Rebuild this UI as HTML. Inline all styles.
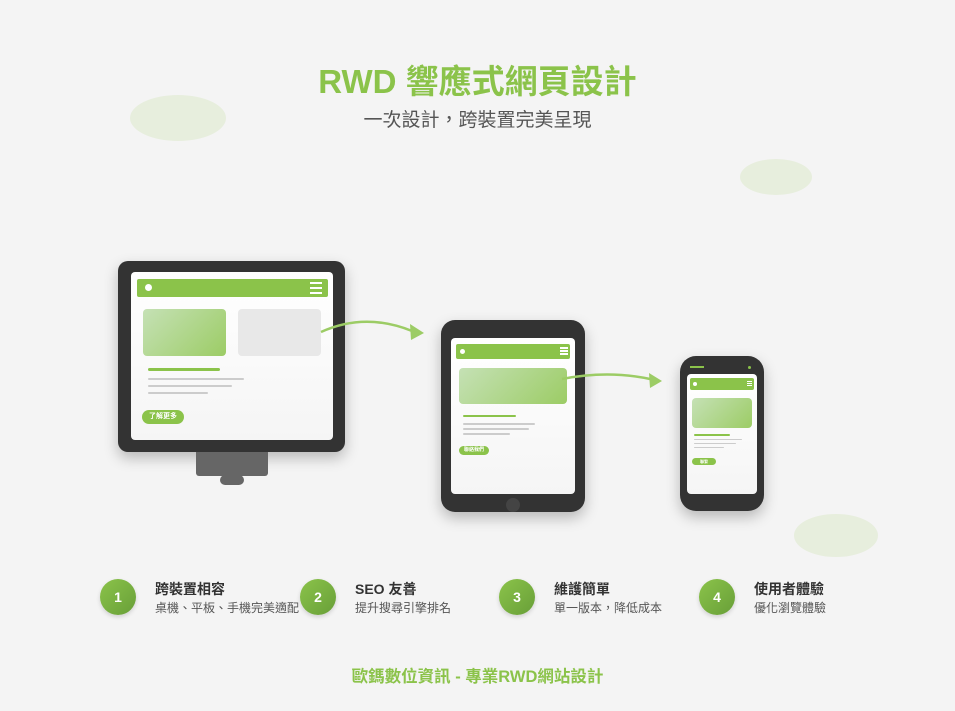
<!DOCTYPE html>
<html><head><meta charset="utf-8"><style>
*{margin:0;padding:0;box-sizing:border-box}
body{width:955px;height:711px;background:#f4f4f4;position:relative;overflow:hidden;font-family:"Liberation Sans","Noto Sans CJK TC",sans-serif}
.a{position:absolute}
.blob{position:absolute;border-radius:50%;background:#e7eedd}
.dark{position:absolute;background:#333;box-shadow:0 6px 14px rgba(0,0,0,.25)}
.scr{position:absolute;background:linear-gradient(#fff,#f5f5f5);border-radius:4px}
.hdr{position:absolute;background:#8bc34a;border-radius:2px}
.img{position:absolute;background:linear-gradient(135deg,#c5e1b5,#9ccc65);border-radius:4px}
.ln{position:absolute;background:#ccc;border-radius:2px}
.gl{position:absolute;background:#8bc34a;border-radius:2px}
.btn{position:absolute;background:#8bc34a;color:#fff;border-radius:8px;text-align:center;font-weight:bold}
.c{position:absolute;width:36px;height:36px;border-radius:50%;background:linear-gradient(135deg,#8bc34a,#689f38);color:#fff;font-weight:bold;font-size:14px;text-align:center;line-height:36px;box-shadow:0 2px 4px rgba(0,0,0,.15)}
.ft{position:absolute;font-weight:bold;font-size:14px;color:#333}
.fs{position:absolute;font-size:12px;color:#555}
</style></head><body>
<div class="blob" style="left:130px;top:95px;width:96px;height:46px"></div>
<div class="blob" style="left:740px;top:159px;width:72px;height:36px"></div>
<div class="blob" style="left:794px;top:514px;width:84px;height:43px"></div>

<div class="a" style="left:0;width:955px;top:61px;text-align:center;font-size:33px;font-weight:bold;color:#8bc34a;line-height:42px">RWD 響應式網頁設計</div>
<div class="a" style="left:0;width:955px;top:109px;text-align:center;font-size:19px;color:#555;line-height:24px">一次設計，跨裝置完美呈現</div>

<!-- monitor -->
<div class="dark" style="left:118px;top:261px;width:227px;height:191px;border-radius:10px"></div>
<div class="scr" style="left:131px;top:272px;width:202px;height:168px"></div>
<div class="hdr" style="left:137px;top:279px;width:191px;height:18px"></div>
<div class="a" style="left:145px;top:284px;width:7px;height:7px;border-radius:50%;background:#fff"></div>
<div class="a" style="left:310px;top:282px;width:12px;height:2px;background:#fff;box-shadow:0 5px 0 #fff,0 10px 0 #fff"></div>
<div class="img" style="left:143px;top:309px;width:83px;height:47px"></div>
<div class="a" style="left:238px;top:309px;width:83px;height:47px;background:#e8e8e8;border-radius:4px"></div>
<div class="gl" style="left:148px;top:368px;width:72px;height:3px"></div>
<div class="ln" style="left:148px;top:378px;width:96px;height:2px"></div>
<div class="ln" style="left:148px;top:385px;width:84px;height:2px"></div>
<div class="ln" style="left:148px;top:392px;width:60px;height:2px"></div>
<div class="btn" style="left:142px;top:410px;width:42px;height:14px;font-size:7px;line-height:14px">了解更多</div>
<div class="a" style="left:196px;top:452px;width:72px;height:24px;background:#666;border-radius:0 0 3px 3px"></div>
<div class="a" style="left:220px;top:475px;width:24px;height:10px;background:#666;border-radius:5px"></div>

<!-- tablet -->
<div class="dark" style="left:441px;top:320px;width:144px;height:192px;border-radius:14px"></div>
<div class="scr" style="left:451px;top:338px;width:124px;height:156px"></div>
<div class="hdr" style="left:456px;top:344px;width:114px;height:15px"></div>
<div class="a" style="left:460px;top:349px;width:5px;height:5px;border-radius:50%;background:#fff"></div>
<div class="a" style="left:560px;top:347px;width:8px;height:2px;background:#fff;box-shadow:0 3px 0 #fff,0 6px 0 #fff"></div>
<div class="img" style="left:459px;top:368px;width:108px;height:36px"></div>
<div class="gl" style="left:463px;top:415px;width:53px;height:2px"></div>
<div class="ln" style="left:463px;top:423px;width:72px;height:2px"></div>
<div class="ln" style="left:463px;top:428px;width:66px;height:2px"></div>
<div class="ln" style="left:463px;top:433px;width:47px;height:2px"></div>
<div class="btn" style="left:459px;top:446px;width:30px;height:9px;font-size:5px;line-height:9px">聯絡我們</div>
<div class="a" style="left:506px;top:498px;width:14px;height:14px;border-radius:50%;background:#444"></div>

<!-- phone -->
<div class="dark" style="left:680px;top:356px;width:84px;height:155px;border-radius:16px"></div>
<div class="scr" style="left:687px;top:374px;width:70px;height:120px"></div>
<div class="a" style="left:690px;top:366px;width:14px;height:2px;background:#8bc34a"></div>
<div class="a" style="left:748px;top:366px;width:3px;height:3px;border-radius:50%;background:#8bc34a"></div>
<div class="hdr" style="left:690px;top:378px;width:64px;height:12px"></div>
<div class="a" style="left:693px;top:382px;width:4px;height:4px;border-radius:50%;background:#fff"></div>
<div class="a" style="left:747px;top:381px;width:5px;height:1px;background:#fff;box-shadow:0 2px 0 #fff,0 4px 0 #fff"></div>
<div class="img" style="left:692px;top:398px;width:60px;height:30px"></div>
<div class="gl" style="left:694px;top:434px;width:36px;height:2px"></div>
<div class="ln" style="left:694px;top:439px;width:48px;height:1px"></div>
<div class="ln" style="left:694px;top:443px;width:42px;height:1px"></div>
<div class="ln" style="left:694px;top:447px;width:30px;height:1px"></div>
<div class="btn" style="left:692px;top:458px;width:24px;height:7px;font-size:4px;line-height:7px">聯繫</div>

<svg class="a" style="left:0;top:0" width="955" height="711">
<path d="M321 332 Q365 312 412 331" fill="none" stroke="#9ccc65" stroke-width="2.5"/>
<path d="M424 333 L410 324 L411 340 Z" fill="#9ccc65"/>
<path d="M562 379 Q608 370 650 379" fill="none" stroke="#9ccc65" stroke-width="2.5"/>
<path d="M662 381 L649 373 L650 388 Z" fill="#9ccc65"/>
</svg>

<div class="c" style="left:100px;top:579px">1</div>
<div class="ft" style="left:155px;top:579px">跨裝置相容</div>
<div class="fs" style="left:155px;top:599px">桌機、平板、手機完美適配</div>
<div class="c" style="left:300px;top:579px">2</div>
<div class="ft" style="left:355px;top:579px">SEO 友善</div>
<div class="fs" style="left:355px;top:599px">提升搜尋引擎排名</div>
<div class="c" style="left:499px;top:579px">3</div>
<div class="ft" style="left:554px;top:579px">維護簡單</div>
<div class="fs" style="left:554px;top:599px">單一版本，降低成本</div>
<div class="c" style="left:699px;top:579px">4</div>
<div class="ft" style="left:754px;top:579px">使用者體驗</div>
<div class="fs" style="left:754px;top:599px">優化瀏覽體驗</div>

<div class="a" style="left:0;width:955px;top:663px;text-align:center;font-size:16.5px;font-weight:bold;color:#8bc34a">歐鎷數位資訊 - 專業RWD網站設計</div>
</body></html>
